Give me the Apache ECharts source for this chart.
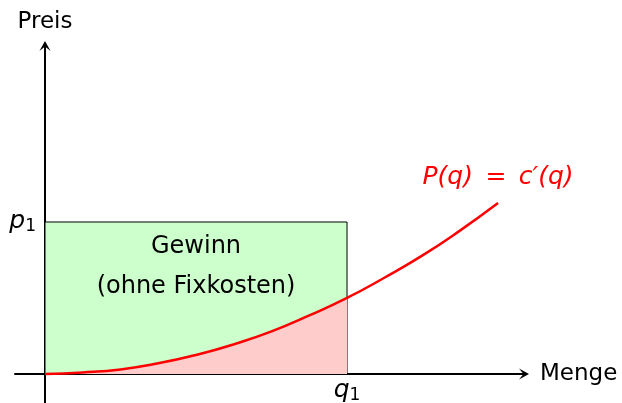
<!DOCTYPE html>
<html>
<head>
<meta charset="utf-8">
<script src="https://cdn.jsdelivr.net/npm/echarts@6/dist/echarts.min.js"></script>
<style>
  html, body { margin: 0; padding: 0; background: #fff; }
  #chart { width: 622px; height: 403px; }
</style>
</head>
<body>
<div id="chart"></div>
<script>
// curve P(q) = c'(q)
const qValues = [0, 0.25, 0.5, 0.75, 1, 1.25, 1.5, 1.75, 2, 2.25, 2.5, 2.75, 3];
const pValues = [0, 0.02, 0.06, 0.14, 0.25, 0.39, 0.56, 0.77, 1.0, 1.27, 1.56, 1.89, 2.25];
const q1 = 2;
const p1 = 2;
const textLabels = ['Gewinn', '(ohne Fixkosten)', 'P(q)\u2002=\u2002c\u2032(q)'];
const textPoints = [[1, 1.68], [1, 1.15], [3.0, 2.58]];

const font = 'DejaVu Sans';
const arrow = 'path://M5,0 L10,9 L5,5 L0,9 Z';

const curve = qValues.map((q, i) => [q, pValues[i]]);
const underCurve = curve.filter(p => p[0] <= q1);

const subRich = {
    i: { fontFamily: font, fontStyle: 'italic', fontSize: 25, color: '#000' },
    s: { fontFamily: font, fontSize: 17, color: '#000', padding: [10, 0, 0, 0] }
};

const axisBase = {
    type: 'value',
    splitLine: { show: false },
    axisTick: { show: false },
    axisLabel: { show: false },
    axisLine: { onZero: true, lineStyle: { color: '#000', width: 2 }, symbol: ['none', arrow], symbolSize: [12, 10] },
    nameLocation: 'end'
};

const chart = echarts.init(document.getElementById('chart'));
const option = {
    animation: false,
    grid: { left: 15, right: 98, top: 46, bottom: 0, outerBoundsMode: 'none', containLabel: false },
    xAxis: Object.assign({}, axisBase, {
        min: -0.1987, max: 3.172,
        name: 'Menge', nameGap: 16,
        nameTextStyle: { fontFamily: font, fontSize: 23, color: '#000' }
    }),
    yAxis: Object.assign({}, axisBase, {
        min: -0.382, max: 4.316,
        name: 'Preis', nameGap: 12,
        nameTextStyle: { fontFamily: font, fontSize: 23, color: '#000', align: 'center' }
    }),
    series: [
        {
            type: 'line', data: [], z: 1, silent: true,
            markArea: {
                silent: true,
                itemStyle: { color: '#ccffcc', borderColor: '#000', borderWidth: 1, opacity: 1 },
                data: [[{ coord: [0, 0] }, { coord: [q1, p1] }]]
            }
        },
        {
            type: 'line', data: underCurve, z: 2, smooth: true, showSymbol: false, silent: true,
            lineStyle: { width: 0 }, areaStyle: { color: '#ffcccc', opacity: 1 }
        },
        {
            type: 'line', data: curve, z: 3, smooth: true, showSymbol: false, silent: true,
            lineStyle: { color: '#ff0000', width: 2.5 }
        },
        {
            type: 'scatter', z: 4, symbolSize: 0, silent: true,
            itemStyle: { opacity: 1 },
            data: textPoints.map((p, i) => ({ value: p, name: textLabels[i] })),
            label: {
                show: true, position: 'inside', fontFamily: font, fontSize: 24, color: '#000',
                formatter: p => p.name
            },
            labelLayout: { hideOverlap: false }
        },
        {
            // tick labels p1 and q1
            type: 'scatter', z: 4, symbolSize: 0, silent: true,
            itemStyle: { opacity: 1 },
            data: [
                { value: [0, p1], label: { position: 'left', distance: 9, formatter: '{i|p}{s|1}' } },
                { value: [q1, 0], label: { position: 'bottom', distance: 3, formatter: '{i|q}{s|1}' } }
            ],
            label: { show: true, rich: subRich },
            labelLayout: { hideOverlap: false }
        }
    ]
};
option.series[3].data[2].label = { color: '#ff0000', fontStyle: 'italic', fontSize: 25 };
chart.setOption(option);
</script>
</body>
</html>
